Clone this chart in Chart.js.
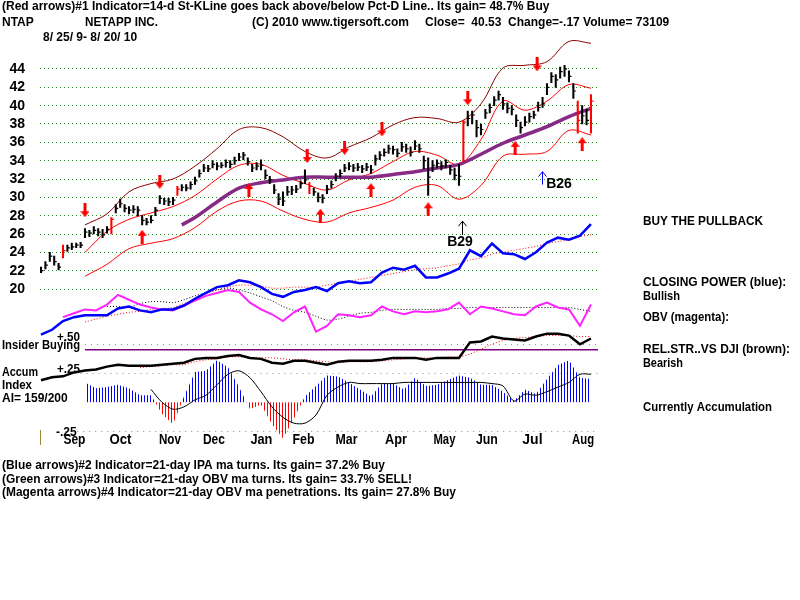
<!DOCTYPE html>
<html>
<head>
<meta charset="utf-8">
<script src="https://cdn.jsdelivr.net/npm/chart.js@4.4.0/dist/chart.umd.min.js"></script>
<style>
  html, body { margin: 0; padding: 0; background: #fff; }
  canvas { display: block; }
</style>
</head>
<body>
<canvas id="chart" width="800" height="600"></canvas>
<script>
// --- price bars, one every 2 trading days from 8/25/09 ---
const highs = [22.4,23.0,24.0,23.6,22.8,24.8,24.8,25.0,25.0,25.1,
  26.6,26.4,26.8,26.6,26.5,26.8,27.8,29.2,29.8,29.2,
  29.0,29.1,29.0,28.0,27.7,28.0,28.9,30.2,29.9,29.9,
  30.0,31.2,31.4,31.4,31.7,32.2,33.0,33.6,33.5,34.0,
  33.8,33.8,34.1,34.0,34.4,34.8,34.9,34.3,33.6,33.8,
  34.1,33.0,32.3,31.4,30.4,30.6,31.2,31.2,31.3,31.8,
  33.0,31.6,31.0,30.5,30.3,31.3,31.8,32.6,33.0,33.6,
  33.8,33.6,33.7,33.5,33.7,33.5,34.6,35.0,35.3,35.7,
  35.6,35.3,36.0,35.8,35.5,36.2,35.8,34.5,34.3,34.0,
  34.1,33.9,34.1,33.5,33.2,33.6,38.4,39.4,39.4,38.4,
  38.0,39.6,40.2,41.0,41.6,40.9,40.3,40.0,39.0,38.2,
  38.8,39.2,39.4,40.4,40.9,42.4,43.6,43.4,44.2,44.4,
  43.8,42.4,40.5,40.0,39.6,41.2];
const lows = [21.8,22.2,23.0,22.6,22.1,23.4,24.1,24.3,24.5,24.5,
  25.6,25.7,26.0,25.8,25.6,26.1,26.0,28.3,28.9,28.4,
  28.2,28.3,28.0,27.0,27.0,27.2,28.0,29.3,29.2,29.1,
  29.2,30.2,30.7,30.7,30.9,31.4,32.2,32.8,32.8,33.2,
  33.0,33.2,33.3,33.2,33.6,34.0,34.1,33.5,32.8,33.0,
  33.0,32.0,31.5,30.4,29.2,29.1,30.2,30.3,30.5,31.0,
  31.5,30.4,30.2,29.5,29.4,30.4,31.0,31.8,32.2,32.8,
  33.0,32.8,32.9,32.7,32.9,32.6,33.5,34.1,34.5,34.8,
  34.7,34.4,35.0,34.9,34.5,35.2,34.9,33.1,30.2,32.8,
  33.2,33.0,33.2,32.5,31.9,31.3,33.8,37.8,38.0,36.6,
  36.8,38.6,39.2,40.0,40.6,39.6,39.2,39.0,37.7,37.0,
  37.8,38.2,38.6,39.4,39.8,41.2,42.5,42.0,43.0,43.2,
  42.6,40.8,37.0,38.0,37.9,37.0];
const closes = [22.0,22.6,23.6,23.0,22.4,24.2,24.5,24.6,24.8,24.8,
  26.2,26.1,26.4,26.2,25.9,26.5,27.6,28.8,29.3,28.8,
  28.6,28.7,28.6,27.5,27.3,27.5,28.6,29.9,29.6,29.5,
  29.7,30.9,31.1,31.0,31.4,31.8,32.6,33.2,33.1,33.6,
  33.4,33.5,33.8,33.6,34.0,34.4,34.6,33.9,33.2,33.4,
  33.5,32.4,31.9,30.8,29.8,29.6,30.6,30.8,30.9,31.5,
  31.9,31.2,30.6,30.0,29.9,30.9,31.4,32.3,32.6,33.2,
  33.4,33.2,33.3,33.1,33.3,33.0,34.2,34.6,34.9,35.3,
  35.2,34.8,35.5,35.3,34.9,35.6,35.3,34.0,32.2,33.5,
  33.7,33.4,33.8,33.0,32.4,32.3,38.2,38.6,39.0,37.6,
  37.4,39.2,39.8,40.6,41.2,40.2,39.7,39.6,38.4,37.6,
  38.2,38.8,39.0,39.8,40.2,42.0,43.2,42.8,43.7,44.0,
  43.2,41.6,38.4,38.9,38.4,40.5];
const redBars = [5, 16, 31, 61, 96, 122, 125];

// --- bands and moving average (trading-day positions) ---
const bandDays = [20,30,40,50,60,70,80,90,100,110,120,130,140,150,160,170,180,190,200,210,220,230,240,250];
const upperBand = [27.0,28.2,30.6,31.5,32.0,33.4,35.3,37.4,37.6,36.6,35.0,34.3,35.5,36.5,37.9,38.7,38.6,38.2,40.2,44.1,44.4,44.8,47.0,46.8];
const midBand = [24.0,26.3,27.6,28.3,29.0,30.2,32.0,33.5,33.6,32.4,31.5,30.8,31.9,32.6,33.9,35.0,34.6,33.6,36.3,40.5,39.5,40.5,42.3,41.9];
const lowerBand = [21.4,22.7,24.4,25.0,25.5,26.7,28.5,29.6,29.6,28.5,27.6,27.3,28.3,28.9,29.7,31.1,31.3,29.8,31.3,34.5,34.7,35.0,37.3,36.8];
const maDays = [64,70,80,90,100,110,120,130,140,150,160,170,180,190,200,210,220,230,240,250];
const ma = [27.0,27.8,29.5,31.0,31.6,31.9,32.2,32.2,32.2,32.2,32.5,32.8,33.2,33.6,34.7,35.9,36.8,37.7,38.8,39.7];

// --- red arrows ---
const downDays = [20, 54, 121, 138, 155, 194, 225.5];
const downPrices = [28.6, 31.7, 34.5, 35.4, 37.4, 40.8, 44.5];
const upDays = [46, 94.5, 127, 150, 176, 215.5, 246];
const upPrices = [25.7, 30.8, 28.0, 30.8, 28.7, 35.4, 35.8];

// --- indicators, one value every 5 trading days ---
const closingPower = [9,14,23,27,29,29,29,36,38,34,32,35,35,39,46,52,58,60,65,63,58,51,48,53,55,58,54,62,64,62,63,73,78,76,80,68,68,72,77,96,90,103,93,92,87,94,104,109,107,111,123];
const cpMa = [22,25,28,30,32,33,35,36,37,41,45,51,55,58,60,60,59,57,57,58,58,58,60,62,64,66,68,70,72,74,76,77,78,80,82,86,88,92,94,96,98,100,103,105,107,110,112];
const obv = [27,31,35,34,40,50,45,40,37,35,34,39,44,49,52,55,53,42,35,30,23,32,38,12,18,30,29,27,29,38,33,30,33,32,33,35,42,30,38,36,33,30,29,38,42,37,35,18,40];
const obvMa = [38,38,37,41,43,43,42,45,49,52,55,57,55,52,48,44,38,34,32,28,24,25,28,31,32,34,35,35,35,35,35,36,36,37,37,37,37,37,37,37,37,37,37,35,33];
const relStr = [22,25,26,30,32,33,36,38,37,37,37,38,39,40,44,45,45,47,48,45,44,40,39,42,42,40,38,41,42,42,42,43,45,45,45,43,45,45,45,61,62,67,65,64,63,67,70,70,68,59,65];
const relStrMa = [35,36,37,38,38,41,43,44,46,46,45,45,45,44,43,43,42,41,40,41,41,41,42,43,44,45,45,45,46,46,49,54,59,63,65,66,67,68,68,68,67,67];
const insiderLevel = 45;
const accum = [17,12,13,15,12,6,6,-10,-19,5,26,27,36,30,13,-6,-2,-19,-31,-14,5,14,23,22,17,11,5,16,16,11,21,14,15,19,23,21,15,15,9,1,11,7,20,32,36,21,20];
const accumMa = [11,0,-6,-4,2,6,15,24,27,21,9,-4,-13,-18,-18,-11,6,13,17,16,16,16,16,17,17,17,17,17,17,17,17,16,14,1,7,6,9,13,17,24,24];

const priceTicks = [20,22,24,26,28,30,32,34,36,38,40,42,44];
const monthNames = ['Sep','Oct','Nov','Dec','Jan','Feb','Mar','Apr','May','Jun','Jul','Aug'];
const monthDays = [15.2,36.1,58.6,78.6,100.2,119.3,138.9,161.4,183.4,202.7,223.4,246.4];

// ---------------------------------------------------------------
const FONT = '"Liberation Sans", Arial, sans-serif';
const step5 = (start, arr) => arr.map((v, i) => ({ x: start + 5 * i, y: v }));
const atDays = (days, arr) => arr.map((v, i) => ({ x: days[i], y: v }));

function stripes(color) {
    const c = document.createElement('canvas');
    c.width = 3; c.height = 4;
    const g = c.getContext('2d');
    g.fillStyle = color;
    g.fillRect(0, 0, 1, 4);
    return g.createPattern(c, 'repeat');
}

function arrowImg(up) {
    const c = document.createElement('canvas');
    c.width = 9; c.height = 14;
    const g = c.getContext('2d');
    g.fillStyle = '#ff0000';
    g.beginPath();
    if (up) {
        g.moveTo(4.5, 0); g.lineTo(9, 6); g.lineTo(0, 6);
        g.fill();
        g.fillRect(3, 6, 3, 8);
    } else {
        g.moveTo(0, 8); g.lineTo(9, 8); g.lineTo(4.5, 14);
        g.fill();
        g.fillRect(3, 0, 3, 8);
    }
    return c;
}

const barColors = highs.map((h, i) => redBars.includes(i) ? '#ff0000' : '#000000');

const texts = [
    ['(Red arrows)#1 Indicator=14-d St-KLine goes back above/below Pct-D Line.. Its gain= 48.7% Buy', 2, 7, 553],
    ['NTAP', 2, 23, 33],
    ['NETAPP INC.', 85, 23, 73],
    ['(C) 2010 www.tigersoft.com', 252, 23, 160],
    ['Close=  40.53  Change=-.17 Volume= 73109', 425, 23, 254],
    ['8/ 25/ 9- 8/ 20/ 10', 43, 38, 112],
    ['BUY THE PULLBACK', 643, 222, 120],
    ['CLOSING POWER (blue):', 643, 283, 144],
    ['Bullish', 643, 297, 37],
    ['OBV (magenta):', 643, 318, 86],
    ['REL.STR..VS DJI (brown):', 643, 350, 147],
    ['Bearish', 643, 364, 40],
    ['Currently Accumulation', 643, 408, 129],
    ['+.50', 57, 338, 23],
    ['Insider Buying', 2, 346, 78],
    ['+.25', 57, 370, 23],
    ['Accum', 2, 373, 36],
    ['Index', 2, 386, 30],
    ['AI= 159/200', 2, 399, 70],
    ['-.25', 56, 433, 24],
    ['(Blue arrows)#2 Indicator=21-day IPA ma turns. Its gain= 37.2% Buy', 2, 466, 383],
    ['(Green arrows)#3 Indicator=21-day OBV ma turns. Its gain= 33.7% SELL!', 2, 480, 410],
    ['(Magenta arrows)#4 Indicator=21-day OBV ma penetrations. Its gain= 27.8% Buy', 2, 493, 454]
];

const decor = {
    id: 'decor',
    beforeDatasetsDraw(chart) {
        const { ctx, chartArea } = chart;
        const xs = chart.scales.x, acc = chart.scales.yAcc;
        ctx.save();
        ctx.strokeStyle = '#8c8c8c';
        ctx.lineWidth = 1;
        ctx.setLineDash([1, 5]);
        [[50, 20], [25, 18], [-25, 11]].forEach(([v, d]) => {
            const y = Math.round(acc.getPixelForValue(v)) + 0.5;
            ctx.beginPath();
            ctx.moveTo(xs.getPixelForValue(d), y);
            ctx.lineTo(chartArea.right, y);
            ctx.stroke();
        });
        ctx.restore();
    },
    afterDraw(chart) {
        const { ctx } = chart;
        const xs = chart.scales.x, ps = chart.scales.yPrice;
        ctx.save();
        ctx.fillStyle = '#000';
        ctx.textBaseline = 'middle';
        ctx.textAlign = 'left';
        ctx.font = 'bold 12px ' + FONT;
        texts.forEach(([s, x, y, w]) => ctx.fillText(s, x, y, w));

        // month labels
        ctx.font = 'bold 14px ' + FONT;
        ctx.textAlign = 'center';
        monthNames.forEach((m, i) => ctx.fillText(m, xs.getPixelForValue(monthDays[i]), 440, 22));

        // small olive marker at left
        ctx.strokeStyle = '#9a8a3a';
        ctx.lineWidth = 1;
        ctx.beginPath(); ctx.moveTo(40.5, 430); ctx.lineTo(40.5, 445); ctx.stroke();

        // B29 / B26 signal arrows
        const sig = (day, tipP, tailP, color, label, labelDay, labelP) => {
            const x = Math.round(xs.getPixelForValue(day)) + 0.5;
            const y1 = ps.getPixelForValue(tipP), y2 = ps.getPixelForValue(tailP);
            ctx.strokeStyle = color;
            ctx.lineWidth = 1;
            ctx.beginPath();
            ctx.moveTo(x, y2); ctx.lineTo(x, y1);
            ctx.moveTo(x - 4, y1 + 5); ctx.lineTo(x, y1); ctx.lineTo(x + 4, y1 + 5);
            ctx.stroke();
            ctx.fillStyle = '#000';
            ctx.font = 'bold 14px ' + FONT;
            ctx.textAlign = 'center';
            ctx.fillText(label, xs.getPixelForValue(labelDay), ps.getPixelForValue(labelP));
        };
        sig(191.4, 27.4, 25.9, '#000', 'B29', 190.5, 25.1);
        sig(227.7, 32.8, 31.4, '#0000ff', 'B26', 235.5, 31.4);
        ctx.restore();
    }
};

new Chart(document.getElementById('chart'), {
    type: 'line',
    data: {
        datasets: [
            { type: 'line', label: 'Red down', data: atDays(downDays, downPrices), yAxisID: 'yPrice', showLine: false,
              pointStyle: arrowImg(false), pointRadius: 7, order: 0 },
            { type: 'line', label: 'Red up', data: atDays(upDays, upPrices), yAxisID: 'yPrice', showLine: false,
              pointStyle: arrowImg(true), pointRadius: 7, order: 0 },
            { type: 'bar', label: 'NTAP', data: highs.map((h, i) => ({ x: i * 2, y: [lows[i], h] })), yAxisID: 'yPrice',
              backgroundColor: barColors, borderWidth: 0, barThickness: 1.4, order: 1 },
            { type: 'line', label: 'Close', data: closes.map((c, i) => ({ x: i * 2, y: c })), yAxisID: 'yPrice', showLine: false,
              pointStyle: 'dash', pointRadius: 2.5, pointBorderWidth: 1.2, pointBorderColor: barColors, pointBackgroundColor: barColors, order: 1 },
            { type: 'line', label: 'MA', data: atDays(maDays, ma), yAxisID: 'yPrice', borderColor: '#862a86', borderWidth: 3.5,
              pointRadius: 0, tension: 0.35, order: 2 },
            { type: 'line', label: 'Upper', data: atDays(bandDays, upperBand), yAxisID: 'yPrice', borderColor: '#8b0000', borderWidth: 1,
              pointRadius: 0, tension: 0.35, order: 3 },
            { type: 'line', label: 'Mid', data: atDays(bandDays, midBand), yAxisID: 'yPrice', borderColor: '#ff0000', borderWidth: 1,
              pointRadius: 0, tension: 0.35, order: 3 },
            { type: 'line', label: 'Lower', data: atDays(bandDays, lowerBand), yAxisID: 'yPrice', borderColor: '#ff0000', borderWidth: 1,
              pointRadius: 0, tension: 0.35, order: 3 },
            { type: 'line', label: 'Closing Power', data: step5(0, closingPower), yAxisID: 'yInd', borderColor: '#0000ff', borderWidth: 2.5,
              pointRadius: 0, order: 4 },
            { type: 'line', label: 'CP MA', data: step5(20, cpMa), yAxisID: 'yInd', borderColor: '#ff0000', borderWidth: 1,
              borderDash: [1, 2], pointRadius: 0, tension: 0.3, order: 5 },
            { type: 'line', label: 'OBV', data: step5(10, obv), yAxisID: 'yInd', borderColor: '#ff22ff', borderWidth: 2,
              pointRadius: 0, order: 4 },
            { type: 'line', label: 'OBV MA', data: step5(30, obvMa), yAxisID: 'yInd', borderColor: '#000', borderWidth: 1,
              borderDash: [1, 2], pointRadius: 0, tension: 0.3, order: 5 },
            { type: 'line', label: 'Rel Str', data: step5(0, relStr), yAxisID: 'yRel', borderColor: '#000', borderWidth: 2.5,
              pointRadius: 0, order: 4 },
            { type: 'line', label: 'Rel Str MA', data: step5(45, relStrMa), yAxisID: 'yRel', borderColor: '#ff0000', borderWidth: 1,
              borderDash: [1, 2], pointRadius: 0, tension: 0.3, order: 5 },
            { type: 'line', label: 'Insider', data: [{ x: 20, y: insiderLevel }, { x: 253.2, y: insiderLevel }], yAxisID: 'yAcc',
              borderColor: '#800080', borderWidth: 1.5, pointRadius: 0, order: 5 },
            { type: 'line', label: 'Accum MA', data: step5(50, accumMa), yAxisID: 'yAcc', borderColor: '#000', borderWidth: 1,
              pointRadius: 0, tension: 0.3, order: 6 },
            { type: 'line', label: 'Accum', data: step5(20, accum), yAxisID: 'yAcc', borderColor: 'rgba(0,0,0,0)', borderWidth: 0,
              pointRadius: 0, fill: { target: { value: 0 }, above: stripes('#0000ff'), below: stripes('#ff0000') }, order: 7 }
        ]
    },
    options: {
        responsive: false,
        animation: false,
        events: [],
        devicePixelRatio: 1,
        layout: { padding: { left: 0, right: 202, top: 10, bottom: 150 } },
        plugins: { legend: { display: false }, tooltip: { enabled: false } },
        scales: {
            x: { type: 'linear', min: -0.45, max: 253.2, offset: false, display: false },
            yPrice: {
                axis: 'y', position: 'left', min: 2.449, max: 48.969,
                afterBuildTicks: s => { s.ticks = priceTicks.map(v => ({ value: v })); },
                afterFit: s => { s.width = 40; },
                ticks: { color: '#000', padding: 15, font: { family: FONT, weight: 'bold', size: 14 } },
                grid: { color: '#2e8b2e', lineWidth: 1, drawTicks: false },
                border: { display: false, dash: [1, 3] }
            },
            yAcc: { axis: 'y', type: 'linear', display: false, min: -41.08, max: 325.58 },
            yInd: { axis: 'y', type: 'linear', display: false, min: -110, max: 330 },
            yRel: { axis: 'y', type: 'linear', display: false, min: -50, max: 390 }
        }
    },
    plugins: [decor]
});
</script>
</body>
</html>
